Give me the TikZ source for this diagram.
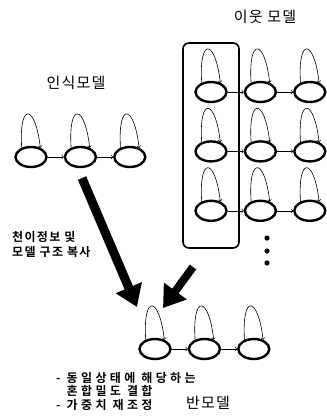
\documentclass[tikz,border=0pt]{standalone}
\usepackage{fontspec}
\newfontfamily\kr{Noto Sans CJK KR}[LetterSpace=8]
\newfontfamily\krbold{Noto Sans CJK KR Bold}[LetterSpace=11]
\newfontfamily\krwide{Noto Sans CJK KR Bold}[LetterSpace=28]
\usepackage{tikz}
\usetikzlibrary{positioning, shapes.geometric, arrows.meta}

\begin{document}
\begin{tikzpicture}[
    x=1pt, y=1pt,
    node distance=37pt and 16pt,
    state/.style={draw, ellipse, line width=2.4pt, minimum width=31pt,
                  minimum height=20pt, inner sep=0pt},
    arrow/.style={->, line width=0.6pt, >=to},
    bigarrow/.style={-{Triangle[width=27pt, length=21pt]}, line width=9pt},
    group/.style={draw, line width=1.6pt, rounded corners=6pt},
    title/.style={font=\kr\fontsize{15}{18}\selectfont},
    note/.style={font=\krbold\fontsize{12}{15}\selectfont, align=left, inner sep=0pt}
]
    \useasboundingbox (0,0) rectangle (327,-416);

    % recognition model
    \node[title] (rectitle) at (76,-83) {인식모델};
    \node[state] (r1) at (31,-157) {};
    \node[state, right=of r1] (r2) {};
    \node[state, right=of r2] (r3) {};

    % neighbour models
    \node[title] (nbrtitle) at (265,-17) {이웃 모델};
    \node[state] (n11) at (211,-92) {};
    \node[state, right=of n11] (n12) {};
    \node[state, right=of n12] (n13) {};
    \node[state, below=of n11] (n21) {};
    \node[state, right=of n21] (n22) {};
    \node[state, right=of n22] (n23) {};
    \node[state, below=of n21] (n31) {};
    \node[state, right=of n31] (n32) {};
    \node[state, right=of n32] (n33) {};
    \draw[group] (183,-43) rectangle (239,-248);
    \foreach \y in {238,251,263}
        \fill (267,-\y) circle (2.6pt);

    % anti model
    \node[state] (b1) at (155,-349) {};
    \node[state, right=of b1] (b2) {};
    \node[state, right=of b2] (b3) {};
    \node[title] (antititle) at (208,-403) {반모델};

    % self loops
    \foreach \s in {r1,r2,r3,n11,n12,n13,n21,n22,n23,n31,n32,n33,b1,b2,b3}
        \draw[arrow] (\s.135) .. controls +(-3,46) and +(-5,44) .. (\s.45);

    % transitions
    \draw[arrow] (r1) -- (r2);
    \draw[arrow] (r2) -- (r3);
    \draw[arrow] (n11) -- (n12);
    \draw[arrow] (n12) -- (n13);
    \draw[arrow] (n21) -- (n22);
    \draw[arrow] (n22) -- (n23);
    \draw[arrow] (n31) -- (n32);
    \draw[arrow] (n32) -- (n33);
    \draw[arrow] (b1) -- (b2);
    \draw[arrow] (b2) -- (b3);

    % copy arrows
    \coordinate (cpstart) at (82,-178);
    \coordinate (cpend) at (137,-307);
    \coordinate (nbstart) at (193,-267);
    \coordinate (nbend) at (163,-308);
    \draw[bigarrow] (cpstart) -- (cpend);
    \draw[bigarrow, line width=8pt] (nbstart) -- (nbend);

    \node[note, anchor=west] (copynote) at (12,-244) {천이정보 및\\모델 구조 복사};
    \node[note, anchor=north west, font=\krwide\fontsize{12}{13.6}\selectfont]
        (mergenote) at (56,-372) {- 동일상태에 해당하는\\\phantom{- }혼합밀도 결합\\- 가중치 재조정};
\end{tikzpicture}
\end{document}
